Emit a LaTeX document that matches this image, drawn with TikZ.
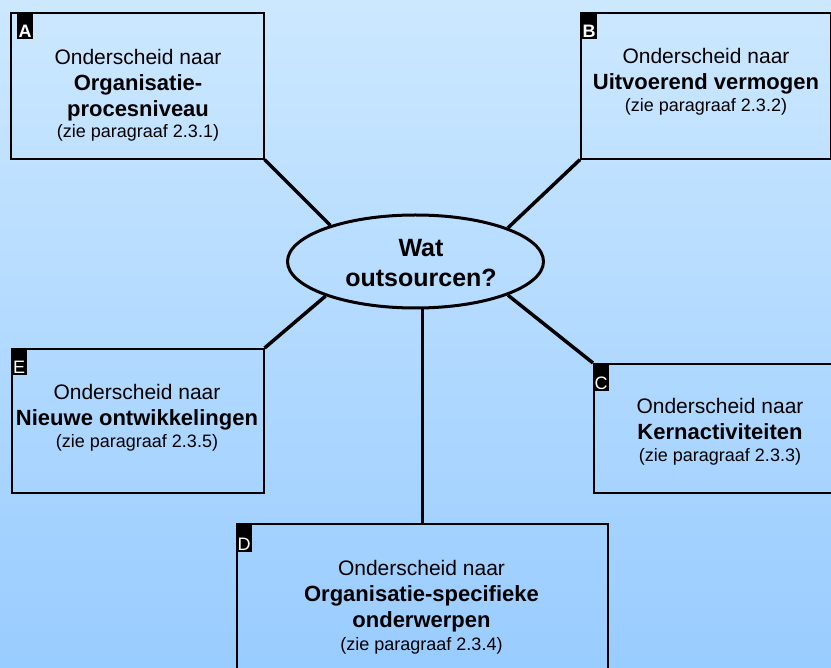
\documentclass[tikz,border=0pt]{standalone}
\usepackage{fontspec}
\setmainfont{Liberation Sans}
\usetikzlibrary{shapes.geometric}
\definecolor{skytop}{RGB}{204,232,255}
\definecolor{skybot}{RGB}{153,204,255}
% line styles inside the boxes
\newcommand\kop[1]{{\fontsize{22}{26}\selectfont\bfseries #1}}
\newcommand\verw[1]{{\fontsize{18}{22}\selectfont #1}}
\begin{document}
\begin{tikzpicture}[x=1pt,y=-1pt,
  box/.style={draw=black,line width=1.6pt,rectangle,anchor=north west,inner sep=0pt},
  tag/.style={fill=black,text=white,anchor=north west,inner xsep=1.5pt,inner ysep=0pt,
              text height=25pt,text depth=2pt,minimum width=16pt,font=\fontsize{18}{18}\selectfont},
  blurb/.style={anchor=north,align=center,inner sep=0pt,font=\fontsize{21}{26}\selectfont},
  link/.style={line width=3.5pt,draw=black},
]
\useasboundingbox (0,0) rectangle (831,668);
\clip (0,0) rectangle (831,668);
\shade[top color=skytop,bottom color=skybot] (0,0) rectangle (831,668);

% the five category boxes
\node[box,minimum width=253pt,minimum height=146pt] (A) at (10,12) {};
\node[box,minimum width=250pt,minimum height=146pt] (B) at (580,12) {};
\node[box,minimum width=254pt,minimum height=129pt] (C) at (593,363) {};
\node[box,minimum width=371pt,minimum height=160pt] (D) at (236,523) {};
\node[box,minimum width=252pt,minimum height=144pt] (E) at (11,348) {};

% letter tags in the corners
\node[tag,font=\fontsize{18}{18}\selectfont\bfseries] (tA) at (17,12) {A};
\node[tag,font=\fontsize{18}{18}\selectfont\bfseries] (tB) at (581,12) {B};
\node[tag,text height=26pt] (tC) at (593,363) {C};
\node[tag,text height=27pt] (tD) at (236,523) {D};
\node[tag] (tE) at (11,348) {E};

% box texts
\node[blurb] (xA) at (138,49.5) {Onderscheid naar\\ \kop{Organisatie-}\\ \kop{procesniveau}\\[-5pt] \verw{(zie paragraaf 2.3.1)}};
\node[blurb] (xB) at (706,48.5) {Onderscheid naar\\ \kop{Uitvoerend vermogen}\\[-4pt] \verw{(zie paragraaf 2.3.2)}};
\node[blurb] (xC) at (720,398.5) {Onderscheid naar\\ \kop{Kernactiviteiten}\\[-4pt] \verw{(zie paragraaf 2.3.3)}};
\node[blurb] (xD) at (421.5,560.5) {Onderscheid naar\\ \kop{Organisatie-specifieke}\\ \kop{onderwerpen}\\[-3pt] \verw{(zie paragraaf 2.3.4)}};
\node[blurb] (xE) at (137,384.5) {Onderscheid naar\\ \kop{Nieuwe ontwikkelingen}\\[-4pt] \verw{(zie paragraaf 2.3.5)}};

% central question
\node[ellipse,draw=black,line width=3pt,minimum width=256pt,minimum height=93pt,inner sep=0pt] (wat) at (415.5,261.5) {};
\node[anchor=north,align=center,inner sep=0pt,font=\fontsize{25}{30}\selectfont\bfseries] (watT) at (421,239) {Wat\\ outsourcen?};

% spokes
\draw[link] (A.south east) -- (wat.157);
\draw[link] (B.south west) -- (wat.20);
\draw[link] (E.north east) -- (wat.201);
\draw[link] (C.north west) -- (wat.340);
\draw[link] (D.north) -- (D.north |- wat.south);
\end{tikzpicture}
\end{document}
